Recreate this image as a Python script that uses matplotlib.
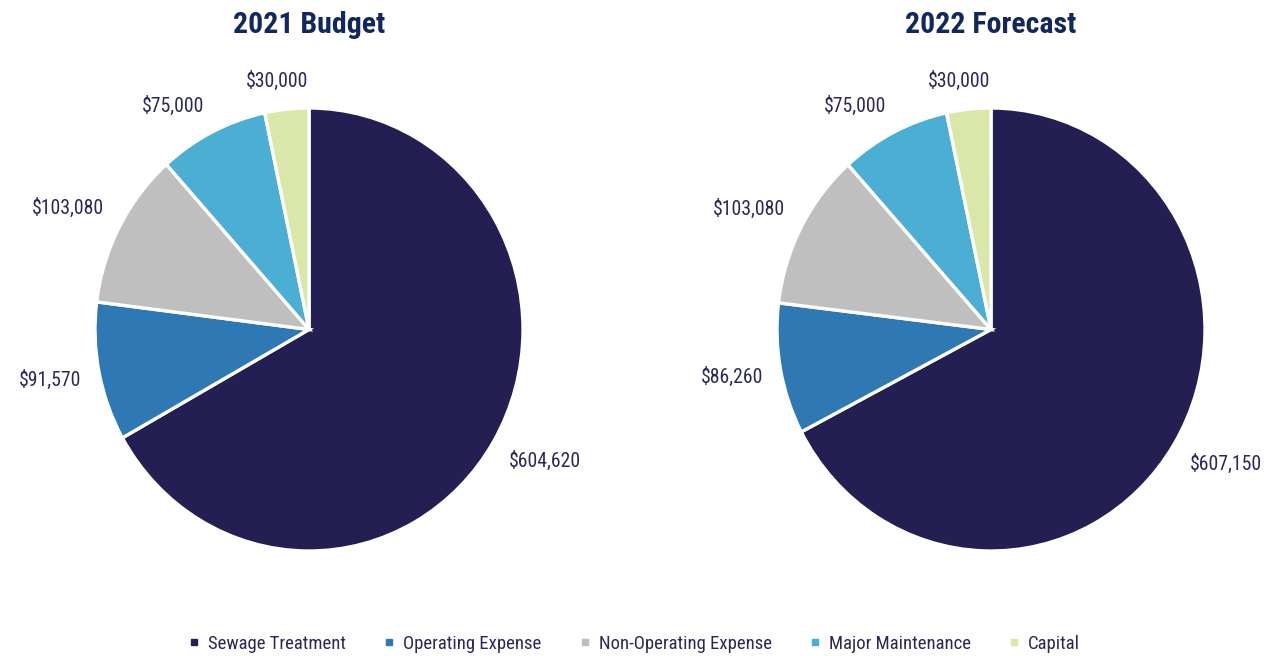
import numpy as np
import matplotlib.pyplot as plt
from matplotlib.lines import Line2D

plt.rcParams['font.family'] = ['Roboto Condensed', 'DejaVu Sans']
plt.rcParams['font.stretch'] = 'condensed'

categories = ['Sewage Treatment', 'Operating Expense', 'Non-Operating Expense',
              'Major Maintenance', 'Capital']
budget_2021 = [604620, 91570, 103080, 75000, 30000]
forecast_2022 = [607150, 86260, 103080, 75000, 30000]
titles = ['2021 Budget', '2022 Forecast']

colors = ['#231f52', '#2e78b3', '#bfbfbf', '#4bafd3', '#d9e7a8']
label_color = '#2a2857'
title_color = '#12275e'

W, H = 1288, 656
RX, RY = 214, 221.5  # pie radii in px (slightly squashed)
centers = [(309, 329.5), (991, 329.5)]

fig = plt.figure(figsize=(W / 100, H / 100), dpi=100)


def place_labels(ax, wedges, texts, gap_px=18, k=2.5):
    # outside-end labels: the box edge touches a point just past the rim
    fig.canvas.draw()
    renderer = fig.canvas.get_renderer()
    c = ax.transData.transform((0, 0))
    inv = ax.transData.inverted()
    for w, t in zip(wedges, texts):
        mid = np.deg2rad((w.theta1 + w.theta2) / 2)
        cs, sn = np.cos(mid), np.sin(mid)
        bb = t.get_window_extent(renderer)
        hw, hh = bb.width / 2, bb.height / 2
        ax_pt = c[0] + (RX + gap_px) * cs
        ay_pt = c[1] + (RY + gap_px) * sn
        px = ax_pt + hw * np.clip(cs * k, -1, 1)
        py = ay_pt + hh * np.clip(sn * k, -1, 1)
        t.set_position(inv.transform((px, py)))
        t.set_ha('center')
        t.set_va('center')


for (cx, cy), vals, title in zip(centers, [budget_2021, forecast_2022], titles):
    ax = fig.add_axes([(cx - RX) / W, (H - cy - RY) / H, 2 * RX / W, 2 * RY / H])
    labels = ['${:,}'.format(v) for v in vals]
    wedges, texts = ax.pie(vals, colors=colors, startangle=90, counterclock=False,
                           labels=labels, labeldistance=1.1, radius=1,
                           wedgeprops=dict(edgecolor='white', linewidth=2.4),
                           textprops=dict(color=label_color, fontsize=14.2))
    ax.set_xlim(-1, 1)
    ax.set_ylim(-1, 1)
    ax.set_aspect('auto')
    place_labels(ax, wedges, texts)
    fig.text(cx / W, 1 - 25 / H, title, ha='center', va='center',
             fontsize=21.5, fontweight='bold', color=title_color)

handles = [Line2D([], [], marker='s', linestyle='none', markersize=4.5,
                  markerfacecolor=c, markeredgecolor=c) for c in colors]
fig.legend(handles, categories, loc='center', bbox_to_anchor=(0.491, 1 - 644 / H),
           ncol=5, frameon=False, fontsize=13.5, labelcolor=label_color,
           handletextpad=0.25, columnspacing=1.8, handlelength=1.0)

fig.savefig('out.png', dpi=100)
